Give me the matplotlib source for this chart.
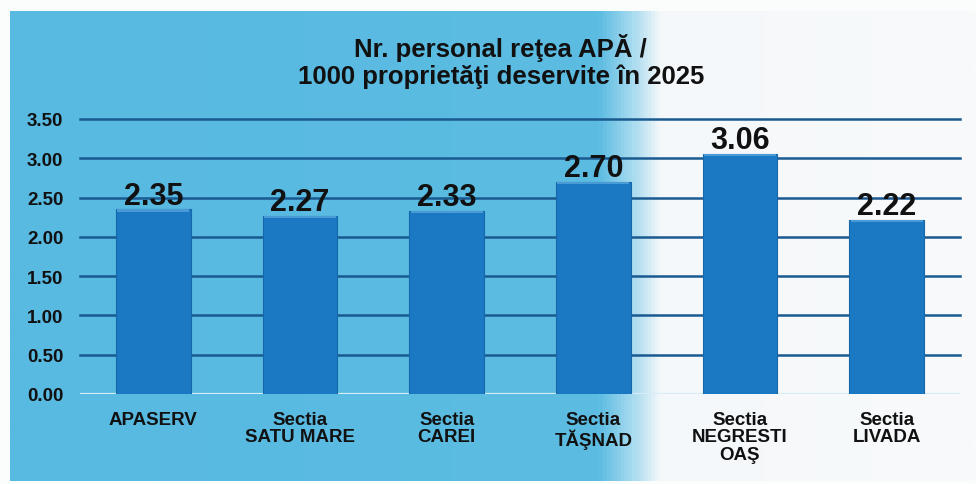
import numpy as np
import matplotlib
matplotlib.use("Agg")
import matplotlib.pyplot as plt
from matplotlib.colors import LinearSegmentedColormap

plt.rcParams['font.family'] = ['Liberation Sans', 'DejaVu Sans']

# date din grafic
categorii = ['APASERV', 'Sectia\nSATU MARE', 'Sectia\nCAREI', 'Sectia\nTĂŞNAD',
             'Sectia\nNEGRESTI\nOAŞ', 'Sectia\nLIVADA']
valori = [2.35, 2.27, 2.33, 2.70, 3.06, 2.22]
yticks = [0.0, 0.5, 1.0, 1.5, 2.0, 2.5, 3.0, 3.5]
titlu = 'Nr. personal reţea APĂ /\n1000 proprietăţi deservite în 2025'

W, H = 976, 485
fig = plt.figure(figsize=(W / 100, H / 100), dpi=100)
fig.patch.set_facecolor('#fbfcfc')

# fundal: panou albastru care trece in alb spre dreapta
bg = fig.add_axes([0, 0, 1, 1], zorder=0)
bg.set_xlim(0, W)
bg.set_ylim(H, 0)
bg.axis('off')
cmap = LinearSegmentedColormap.from_list('fundal', [(0, '#58b9e1'), (0.61, '#5cbce2'),
                                                   (0.645, '#a6daef'), (0.675, '#f5f8fa'),
                                                   (1, '#f8fafb')])
grad = np.linspace(0, 1, 800).reshape(1, -1)
bg.imshow(grad, cmap=cmap, aspect='auto', extent=[10, W, 482, 12], interpolation='bilinear')

ax = fig.add_axes([80 / W, 1 - 395 / H, 880 / W, 275 / H], zorder=1)
ax.patch.set_alpha(0)
x = np.arange(len(valori))

for y in yticks[1:]:
    ax.axhline(y, color='#1a5a90', lw=1.8, zorder=1, clip_on=False)
ax.axhline(0, color='#d6edf7', lw=1.6, zorder=1)

ax.bar(x, valori, width=0.51, color='#1b79c3', edgecolor='#1666aa', lw=0.8, zorder=2)
# marginea de sus mai deschisa
ax.bar(x, [0.03] * len(valori), bottom=np.array(valori) - 0.03, width=0.49,
       color='#4a9ad6', lw=0, zorder=3)

for xi, v in zip(x, valori):
    ax.text(xi, v + 0.07, f'{v:.2f}', ha='center', va='baseline', fontsize=22,
            fontweight='bold', color='#111111', zorder=4)

ax.set_xlim(-0.5, len(valori) - 0.5)
ax.set_ylim(0, 3.5)
ax.set_yticks(yticks)
ax.set_yticklabels([f'{t:.2f}' for t in yticks], fontsize=13.5, fontweight='bold')
ax.set_xticks(x)
ax.set_xticklabels(categorii, fontsize=13.5, fontweight='bold', linespacing=1.05)
ax.tick_params(axis='y', length=0, pad=12, colors='#111111')
ax.tick_params(axis='x', length=0, pad=12, colors='#111111')
for s in ax.spines.values():
    s.set_visible(False)

fig.text(0.513, 1 - 34 / H, titlu, ha='center', va='top', fontsize=18.5,
         fontweight='bold', linespacing=1.12, color='#111111')

fig.savefig('out.png', dpi=100, facecolor=fig.get_facecolor())
